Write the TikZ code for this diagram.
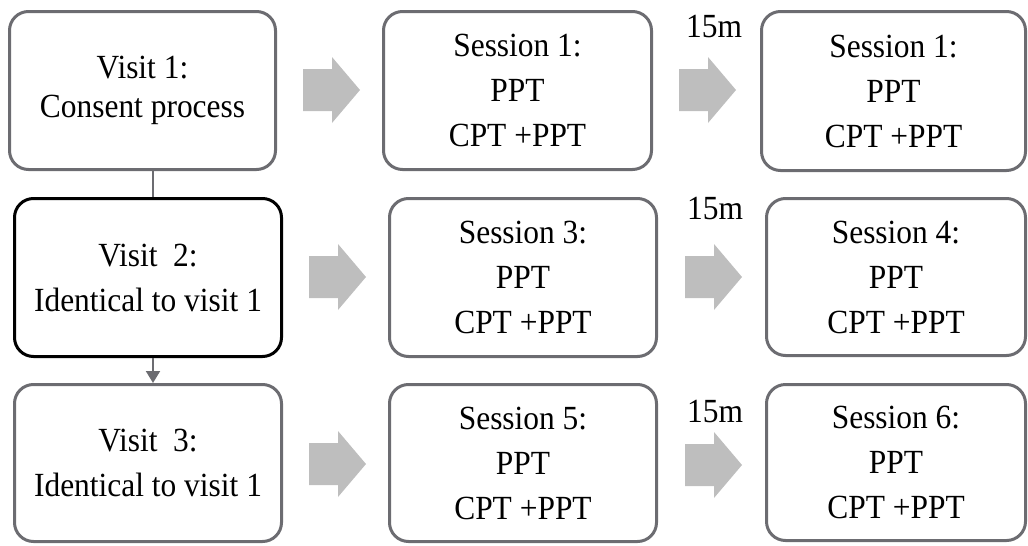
\documentclass[tikz,border=0pt]{standalone}
\usepackage{fontspec}
\setmainfont[FakeStretch=0.93]{Liberation Serif}
\usetikzlibrary{arrows.meta}
\definecolor{boxgray}{RGB}{108,108,113}
\definecolor{arrowgray}{RGB}{190,190,190}
\tikzset{
  box/.style={draw=boxgray, line width=3pt, rounded corners=19pt, align=center,
    inner sep=0pt, font=\fontsize{33.8}{45}\selectfont},
  boxdark/.style={box, draw=black},
  timelabel/.style={anchor=base, inner sep=0pt, font=\fontsize{33.8}{38}\selectfont},
  link/.style={draw=boxgray, line width=2pt},
}
\newcommand\blockarr[2]{%
  \fill[arrowgray] (#1,#2-21) -- (#1+29,#2-21) -- (#1+29,#2-33) -- (#1+57,#2)
    -- (#1+29,#2+33) -- (#1+29,#2+21) -- (#1,#2+21) -- cycle;}
\begin{document}
\begin{tikzpicture}[x=1pt,y=-1pt]
\useasboundingbox (0,0) rectangle (1028,546);
% left column
\node[box, minimum width=266pt, minimum height=158pt] (V1) at (142.5,90.5)
  {Visit 1:\\[-6pt]Consent process};
\node[boxdark, minimum width=267pt, minimum height=158pt] (V2) at (148,277.5)
  {Visit\ \ 2:\\Identical to visit 1};
\node[box, minimum width=267pt, minimum height=157pt] (V3) at (148,463)
  {Visit\ \ 3:\\Identical to visit 1};
% sessions
\node[box, minimum width=268pt, minimum height=158pt] (S1) at (517.5,90.5)
  {Session 1:\\PPT\\CPT +PPT};
\node[box, minimum width=264pt, minimum height=159pt] (S2) at (893.5,91)
  {Session 1:\\PPT\\CPT +PPT};
\node[box, minimum width=267pt, minimum height=158pt] (S3) at (523,277.5)
  {Session 3:\\PPT\\CPT +PPT};
\node[box, minimum width=259pt, minimum height=157pt] (S4) at (896,277)
  {Session 4:\\PPT\\CPT +PPT};
\node[box, minimum width=267pt, minimum height=157pt] (S5) at (523,463)
  {Session 5:\\PPT\\CPT +PPT};
\node[box, minimum width=259pt, minimum height=156pt] (S6) at (896,462.5)
  {Session 6:\\PPT\\CPT +PPT};
% time labels
\node[timelabel] (T1) at (714,37) {15m};
\node[timelabel] (T2) at (715,219) {15m};
\node[timelabel] (T3) at (715,422) {15m};
% block arrows
\blockarr{303}{90}
\blockarr{679}{90}
\blockarr{309}{277}
\blockarr{685}{277}
\blockarr{309}{464}
\blockarr{685}{465}
% vertical links
\coordinate (lx) at (153,0);
\draw[link] (V1.south -| lx) -- (V2.north -| lx);
\draw[link, -{Triangle[length=12pt,width=14pt]}] (V2.south -| lx) -- (V3.north -| lx);
\end{tikzpicture}
\end{document}
